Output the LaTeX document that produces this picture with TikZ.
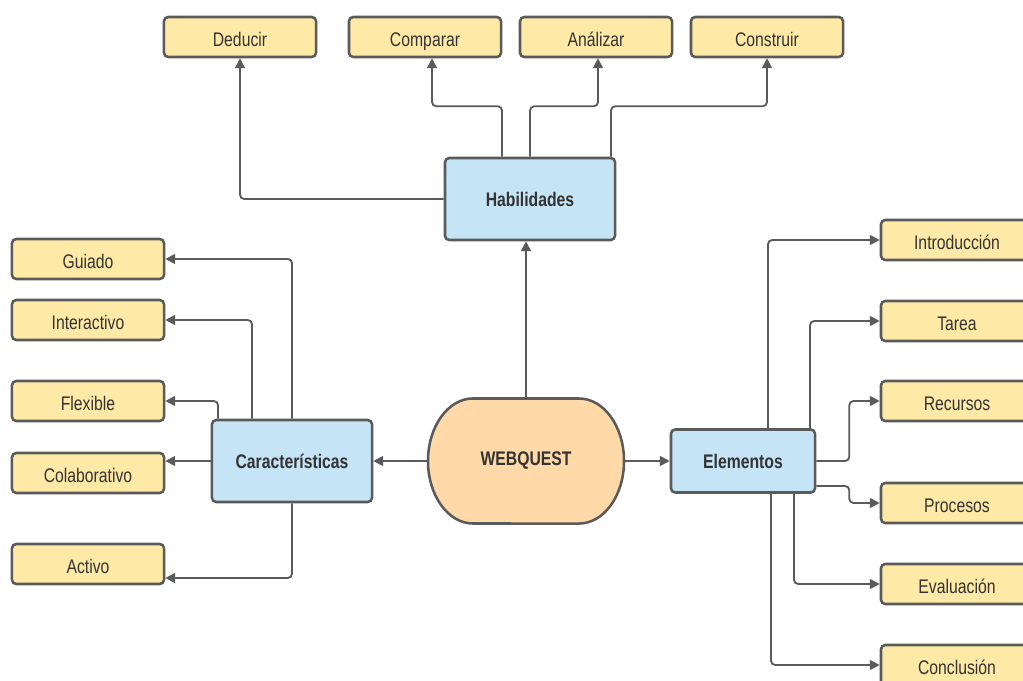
\documentclass[tikz,border=0pt]{standalone}
\usepackage{fontspec}
\setmainfont[FakeStretch=0.8]{Liberation Sans}
\usetikzlibrary{calc, positioning}
\usetikzlibrary{arrows.meta}

\definecolor{boxyellow}{HTML}{FFE9A6}
\definecolor{boxblue}{HTML}{C5E4F6}
\definecolor{boxorange}{HTML}{FFDAA8}
\definecolor{edgegray}{HTML}{5A5A5A}
\definecolor{textgray}{HTML}{333333}

\begin{document}
\begin{tikzpicture}[x=0.025cm, y=-0.025cm,
        leaf/.style={draw=edgegray, line width=1.8pt, rounded corners=3pt, fill=boxyellow,
                minimum width=3.8cm, minimum height=1.0cm, inner sep=0pt,
                text height=13pt, text depth=0pt,
                text=textgray, font=\fontsize{14}{16}\selectfont},
        hub/.style={draw=edgegray, line width=1.8pt, rounded corners=3pt, fill=boxblue,
                inner sep=0pt, text=textgray, font=\fontsize{14}{16}\selectfont\bfseries},
        conn/.style={draw=edgegray, line width=1.3pt, rounded corners=3pt,
                -{Triangle[length=7pt, width=7pt]}}]
        \useasboundingbox (0,0) rectangle (1023,681);
        %\draw[help lines, step=1cm] (0,0) grid (1023,681);

        % centre
        \coordinate (c) at (526,461);
        \draw [draw=edgegray, line width=1.8pt, fill=boxorange]
                ($(c)+(-53,-62.5)$) -- ($(c)+(53,-62.5)$)
                arc[start angle=90, end angle=-90, x radius=1.125cm, y radius=1.5625cm]
                -- ($(c)+(-53,62.5)$)
                arc[start angle=270, end angle=90, x radius=1.125cm, y radius=1.5625cm] -- cycle;
        \node [minimum width=4.925cm, minimum height=3.125cm, inner sep=0pt,
               text=textgray, font=\fontsize{14}{16}\selectfont\bfseries] (web) at (c) {WEBQUEST};

        \node [hub, minimum width=4.25cm, minimum height=2.05cm] (hab) at (530,199) {Habilidades};
        \node [hub, minimum width=4.0cm, minimum height=2.05cm] (car) at (292,461) {Características};
        \node [hub, minimum width=3.6cm, minimum height=1.575cm] (ele) at (743,461) {Elementos};

        % habilidades
        \node [leaf] (ded) at (240,37) {Deducir};
        \node [leaf] (com) at (425,37) {Comparar};
        \node [leaf] (ana) at (596,37) {Análizar};
        \node [leaf] (cons) at (767,37) {Construir};

        % caracteristicas
        \node [leaf] (gui) at (88,259) {Guiado};
        \node [leaf] (inter) at (88,320) {Interactivo};
        \node [leaf] (fle) at (88,401) {Flexible};
        \node [leaf] (col) at (88,473) {Colaborativo};
        \node [leaf] (act) at (88,564) {Activo};

        % elementos
        \node [leaf] (intro) at (957,240) {Introducción};
        \node [leaf] (tar) at (957,321) {Tarea};
        \node [leaf] (rec) at (957,401) {Recursos};
        \node [leaf] (pro) at (957,503) {Procesos};
        \node [leaf] (eva) at (957,584) {Evaluación};
        \node [leaf] (conc) at (957,665) {Conclusión};

        \draw [conn] (web.north) -- (web.north |- hab.south);
        \draw [conn] (web.west) -- (car.east);
        \draw [conn] (web.east) -- (ele.west);

        \draw [conn] (hab.west) -| (ded.south);
        \draw [conn] ($(hab.north)+(-28,0)$) |- ($(com.south)+(7,48)$) -- ($(com.south)+(7,0)$);
        \draw [conn] (hab.north) |- ($(ana.south)+(2,48)$) -- ($(ana.south)+(2,0)$);
        \draw [conn] ($(hab.north)+(81,0)$) |- ($(cons.south)+(0,48)$) -- (cons.south);

        \draw [conn] (car.north) |- (gui.east);
        \draw [conn] ($(car.north)+(-40,0)$) |- (inter.east);
        \draw [conn] ($(car.north)+(-74,0)$) |- (fle.east);
        \draw [conn] (car.west) -- (car.west -| col.east);
        \draw [conn] (car.south) |- ($(act.east)+(0,14)$);

        \draw [conn] ($(ele.north)+(25,0)$) |- (intro.west);
        \draw [conn] ($(ele.north)+(67,0)$) |- (tar.west);
        \draw [conn] (ele.east) -- ++(33,0) |- (rec.west);
        \draw [conn] ($(ele.east)+(0,25)$) -- ++(33,0) |- (pro.west);
        \draw [conn] ($(ele.south)+(51,0)$) |- (eva.west);
        \draw [conn] ($(ele.south)+(28,0)$) |- (conc.west);
\end{tikzpicture}
\end{document}
